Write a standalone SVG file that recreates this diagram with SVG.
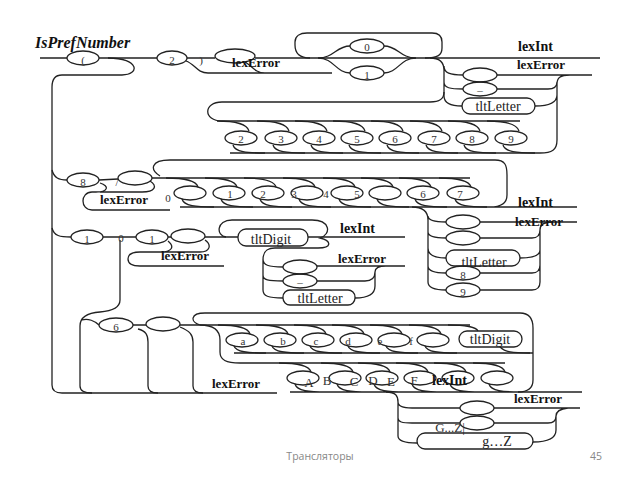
<svg xmlns="http://www.w3.org/2000/svg" width="640" height="480" viewBox="0 0 640 480">
<style>
.c{fill:none;stroke:#222;stroke-width:1.3}
.e{fill:none;stroke:#222;stroke-width:1.3}
.b{font-family:"Liberation Serif",serif;font-weight:bold;font-size:13px;fill:#111}
.i{font-family:"Liberation Serif",serif;font-weight:bold;font-size:14px;fill:#111}
.t{font-family:"Liberation Serif",serif;font-size:14px;fill:#222}
.s{font-family:"Liberation Serif",serif;font-size:11px;fill:#333;text-anchor:middle}
.u{font-family:"Liberation Serif",serif;font-size:13px;fill:#333;text-anchor:middle}
</style>
<rect width="640" height="480" fill="#fff"/>
<text x="35" y="48" style="font-family:'Liberation Serif',serif;font-weight:bold;font-style:italic;font-size:16px;fill:#111">IsPrefNumber</text>

<g id="connectors">
<path class="c" d="M40,58 L67,58 M99,58 L157,58 M187,58 L215,58 M255,58 L600,58"/>
<path class="c" d="M108,58 C140,58 140,75 122,75 L62,75 C55,75 52,79 52,87 L52,385 C52,390 55,393 62,393 L277,393"/>
<path class="c" d="M186,61 C195,64 197,73 208,73 L332,73 M245,62 C252,66 255,73 265,73"/>
<path class="c" d="M310,58 C298,58 295,52 295,45 L295,42 C295,36 300,33 307,33 L432,33 C438,33 442,36 442,42 L442,48 C442,55 438,58 425,58"/>
<path class="c" d="M318,58 C334,58 336,46 350,46 M384,46 C398,46 400,58 416,58 M318,58 C334,58 336,73 350,73 M384,73 C398,73 400,58 416,58"/>
<path class="c" d="M430,58 C440,58 444,62 444,70 L444,96 C444,102 448,106 462,106 M444,66 C444,73 450,75 463,75 M444,82 C444,88 450,89 463,89 M497,75 L592,75 M497,89 L548,89 C554,89 557,86 557,82 M535,106 C550,106 557,102 557,95 M557,84 C557,78 560,75 570,75 M557,82 L557,140 C557,150 552,153 540,153 L230,153"/>
<path class="c" d="M444,92 C444,99 440,102 430,102 L222,102 C203,102 203,121 222,121 L520,121"/>
<path class="c" d="M217,121 C235,121 247,124 249,131 M233,145 C235,152 247,153 265,153 M257,121 C275,121 287,124 289,131 M273,145 C275,152 287,153 305,153 M295,121 C313,121 325,124 327,131 M311,145 C313,152 325,153 343,153 M333,121 C351,121 363,124 365,131 M349,145 C351,152 363,153 381,153 M371,121 C389,121 401,124 403,131 M387,145 C389,152 401,153 419,153 M410,121 C428,121 440,124 442,131 M426,145 C428,152 440,153 458,153 M448,121 C466,121 478,124 480,131 M464,145 C466,152 478,153 496,153 M487,121 C505,121 517,124 519,131 M503,145 C505,152 517,153 535,153"/>
<path class="c" d="M52,170 C54,178 59,180 67,180 M99,180 L118,179 M152,178 L470,178"/>
<path class="c" d="M100,183 C110,186 108,192 96,192 L92,192 C80,192 80,210 92,210 L170,210 M150,181 C158,186 155,192 142,192 L100,192"/>
<path class="c" d="M160,176 C150,170 150,160 170,160 L495,160 C505,160 507,165 507,175 L507,195 C507,204 500,207 490,207 M180,207 L577,207 M480,222 L577,222"/>
<path class="c" d="M166,178 C184,178 196,180 198,187 M182,199 C184,206 196,207 214,207 M205,178 C223,178 235,180 237,187 M221,199 C223,206 235,207 253,207 M244,178 C262,178 274,180 276,187 M260,199 C262,206 274,207 292,207 M283,178 C301,178 313,180 315,187 M299,199 C301,206 313,207 331,207 M323,178 C341,178 353,180 355,187 M339,199 C341,206 353,207 371,207 M361,178 C379,178 391,180 393,187 M377,199 C379,206 391,207 409,207 M399,178 C417,178 429,180 431,187 M415,199 C417,206 429,207 447,207 M439,178 C457,178 469,180 471,187 M455,199 C457,206 469,207 487,207"/>
<path class="c" d="M412,207 C424,207 428,212 428,220 L428,282 C428,287 432,290 446,290 M428,216 C428,220 434,222 446,222 M428,232 C428,236 434,238 446,238 M428,248 C428,255 434,258 446,258 M428,266 C428,271 434,273 446,273 M480,238 L532,238 C538,238 540,235 540,230 M520,258 C534,258 540,255 540,250 M480,273 L532,273 C538,273 540,270 540,265 M480,290 L532,290 C538,290 540,287 540,282 L540,230 C540,225 543,222 552,222"/>
<path class="c" d="M52,228 C54,236 60,237 71,237 M103,237 L136,237 M168,237 L171,237 M205,237 L238,237 M308,237 L405,237"/>
<path class="c" d="M120,240 L120,300 C120,308 112,311 100,312 C86,313 80,318 80,326 L80,386 C80,391 84,393 92,393 M82,320 C88,318 95,321 99,325"/>
<path class="c" d="M168,241 C175,247 172,252 160,252 L140,252 C130,252 128,256 128,259 C128,263 131,266 140,266 L224,266 M205,240 C212,245 210,252 200,252 L160,252"/>
<path class="c" d="M226,237 C216,236 216,220 232,220 L312,220 C330,220 332,234 320,238 C332,241 332,248 318,248 L275,248 C266,248 263,252 263,260 L263,290 C263,296 268,298 283,298 M263,259 C263,265 268,267 283,267 M263,275 C263,280 268,281 283,281 M317,266 L405,266 M317,281 L365,281 C372,281 375,278 375,272 M355,298 C369,298 375,294 375,286 L375,272 C375,268 378,266 386,266"/>
<path class="c" d="M133,325 L146,325 M138,329 C146,331 148,335 148,342 L148,386 C148,391 151,393 158,393 M180,327 C190,331 193,335 193,342 L193,386 C193,391 196,393 203,393 M180,325 L470,325"/>
<path class="c" d="M200,325 C190,322 190,313 205,313 L520,313 C529,313 533,318 533,328 L533,380 C533,388 528,392 518,392 M200,325 C214,325 220,330 220,340 L220,352 C220,360 226,363 240,363 L505,363 M234,353 L533,353"/>
<path class="c" d="M218,325 C236,325 248,327 250,334 M234,346 C236,352 248,353 266,353 M256,325 C274,325 286,327 288,334 M272,346 C274,352 286,353 304,353 M294,325 C312,325 324,327 326,334 M310,346 C312,352 324,353 342,353 M332,325 C350,325 362,327 364,334 M348,346 C350,352 362,353 380,353 M370,325 C388,325 400,327 402,334 M386,346 C388,352 400,353 418,353 M409,325 C427,325 439,327 441,334 M425,346 C427,352 439,353 457,353 M448,325 C466,325 476,327 478,331 M500,347 C505,352 512,353 530,353"/>
<path class="c" d="M279,363 C297,363 309,365 311,372 M295,384 C297,391 309,392 327,392 M321,363 C339,363 351,365 353,372 M337,384 C339,391 351,392 369,392 M358,363 C376,363 388,365 390,372 M374,384 C376,391 388,392 406,392 M396,363 C414,363 426,365 428,372 M412,384 C414,391 426,392 444,392 M434,363 C452,363 464,365 466,372 M450,384 C452,391 464,392 482,392 M473,363 C491,363 503,365 505,372 M489,384 C491,391 503,392 521,392 M290,392 L582,392"/>
<path class="c" d="M386,392 C396,392 398,396 398,402 L398,436 C398,441 404,443 417,443 M398,402 C398,406 402,408 412,408 L460,408 M398,418 C398,422 402,423 412,423 L460,423 M494,408 L580,408 M494,423 L548,423 C554,423 556,420 556,416 M533,442 C548,442 556,438 556,430 L556,416 C556,412 559,409 568,408"/>
</g>

<g id="n-open"><ellipse class="e" cx="83" cy="58" rx="16" ry="7"/><text class="s" x="83" y="64">(</text></g>
<g id="n-2"><ellipse class="e" cx="172" cy="58" rx="15" ry="7"/><text class="s" x="172" y="64">2</text><text class="s" x="201" y="64">)</text></g>
<g id="n-err1"><ellipse class="e" cx="235" cy="56" rx="20" ry="7"/><text class="b" x="232" y="67">lexError</text></g>
<g id="n-0"><ellipse class="e" cx="367" cy="46" rx="17" ry="7"/><text class="s" x="367" y="51">0</text></g>
<g id="n-1"><ellipse class="e" cx="367" cy="73" rx="17" ry="7"/><text class="s" x="367" y="79">1</text></g>
<g id="n-top-out"><text class="i" x="518" y="51">lexInt</text><text class="b" x="517" y="69">lexError</text>
<ellipse class="e" cx="480" cy="75" rx="17" ry="7"/><ellipse class="e" cx="480" cy="89" rx="17" ry="7"/><text class="s" x="480" y="90">_</text>
<rect class="e" x="462" y="98" width="73" height="16" rx="8"/><text class="t" x="498" y="111" text-anchor="middle">tltLetter</text></g>
<g id="n-digits1">
<ellipse class="e" cx="241" cy="138" rx="16" ry="7"/><text class="s" x="241" y="143">2</text>
<ellipse class="e" cx="281" cy="138" rx="16" ry="7"/><text class="s" x="281" y="143">3</text>
<ellipse class="e" cx="319" cy="138" rx="16" ry="7"/><text class="s" x="319" y="143">4</text>
<ellipse class="e" cx="357" cy="138" rx="16" ry="7"/><text class="s" x="357" y="143">5</text>
<ellipse class="e" cx="395" cy="138" rx="16" ry="7"/><text class="s" x="395" y="143">6</text>
<ellipse class="e" cx="434" cy="138" rx="16" ry="7"/><text class="s" x="434" y="143">7</text>
<ellipse class="e" cx="472" cy="138" rx="16" ry="7"/><text class="s" x="472" y="143">8</text>
<ellipse class="e" cx="511" cy="138" rx="16" ry="7"/><text class="s" x="511" y="143">9</text></g>

<g id="n-8"><ellipse class="e" cx="83" cy="180" rx="16" ry="7"/><text class="s" x="83" y="186">8</text><text class="s" x="117" y="186">/</text>
<ellipse class="e" cx="135" cy="178" rx="17" ry="7"/><text class="b" x="100" y="204">lexError</text><text class="s" x="168" y="202">0</text></g>
<g id="n-digits2">
<ellipse class="e" cx="190" cy="193" rx="16" ry="7"/>
<ellipse class="e" cx="229" cy="193" rx="16" ry="7"/><text class="s" x="230" y="198">1</text>
<ellipse class="e" cx="268" cy="193" rx="16" ry="7"/><text class="s" x="263" y="198">2</text>
<ellipse class="e" cx="307" cy="193" rx="16" ry="7"/><text class="s" x="294" y="198">3</text>
<ellipse class="e" cx="347" cy="193" rx="16" ry="7"/><text class="s" x="326" y="198">4</text>
<ellipse class="e" cx="385" cy="193" rx="16" ry="7"/><text class="s" x="357" y="198">5</text>
<ellipse class="e" cx="423" cy="193" rx="16" ry="7"/><text class="s" x="423" y="198">6</text>
<ellipse class="e" cx="463" cy="193" rx="16" ry="7"/><text class="s" x="460" y="198">7</text></g>
<g id="n-oct-out"><text class="i" x="518" y="207">lexInt</text><text class="b" x="515" y="226">lexError</text>
<ellipse class="e" cx="463" cy="222" rx="17" ry="7"/><ellipse class="e" cx="463" cy="238" rx="17" ry="7"/>
<rect class="e" x="446" y="250" width="74" height="16" rx="8"/><text class="t" x="484" y="267" text-anchor="middle">tltLetter</text>
<ellipse class="e" cx="463" cy="273" rx="17" ry="7"/><text class="s" x="463" y="279">8</text>
<ellipse class="e" cx="463" cy="290" rx="17" ry="7"/><text class="s" x="463" y="296">9</text></g>

<g id="n-1b"><ellipse class="e" cx="87" cy="237" rx="16" ry="7"/><text class="s" x="87" y="243">1</text><text class="s" x="121" y="242">0</text>
<ellipse class="e" cx="152" cy="237" rx="16" ry="7"/><text class="s" x="152" y="243">1</text>
<ellipse class="e" cx="188" cy="236" rx="17" ry="7"/><text class="b" x="161" y="260">lexError</text></g>
<g id="n-bin-body"><rect class="e" x="238" y="229" width="70" height="17" rx="8"/><text class="t" x="271" y="244" text-anchor="middle">tltDigit</text>
<text class="i" x="340" y="233">lexInt</text><text class="b" x="338" y="263">lexError</text>
<ellipse class="e" cx="300" cy="267" rx="17" ry="7"/><ellipse class="e" cx="300" cy="281" rx="17" ry="7"/><text class="s" x="300" y="282">_</text>
<rect class="e" x="283" y="290" width="72" height="15" rx="7"/><text class="t" x="320" y="303" text-anchor="middle">tltLetter</text></g>

<g id="n-6"><ellipse class="e" cx="116" cy="325" rx="17" ry="7"/><text class="s" x="116" y="331">6</text>
<ellipse class="e" cx="163" cy="324" rx="17" ry="7"/><text class="b" x="212" y="388">lexError</text></g>
<g id="n-hexlow">
<ellipse class="e" cx="242" cy="340" rx="16" ry="7"/><text class="s" x="243" y="345">a</text>
<ellipse class="e" cx="280" cy="340" rx="16" ry="7"/><text class="s" x="283" y="345">b</text>
<ellipse class="e" cx="318" cy="340" rx="16" ry="7"/><text class="s" x="316" y="345">c</text>
<ellipse class="e" cx="356" cy="340" rx="16" ry="7"/><text class="s" x="348" y="345">d</text>
<ellipse class="e" cx="394" cy="340" rx="16" ry="7"/><text class="s" x="380" y="345">e</text>
<ellipse class="e" cx="433" cy="340" rx="16" ry="7"/><text class="s" x="411" y="345">f</text>
<rect class="e" x="459" y="331" width="63" height="16" rx="8"/><text class="t" x="490" y="344" text-anchor="middle">tltDigit</text></g>
<g id="n-hexup">
<ellipse class="e" cx="303" cy="378" rx="16" ry="7"/><text class="u" x="309" y="387">A</text>
<ellipse class="e" cx="345" cy="378" rx="16" ry="7"/><text class="u" x="327" y="385">B</text>
<ellipse class="e" cx="382" cy="378" rx="16" ry="7"/><text class="u" x="354" y="386">C</text>
<ellipse class="e" cx="420" cy="378" rx="16" ry="7"/><text class="u" x="373" y="385">D</text>
<ellipse class="e" cx="458" cy="378" rx="16" ry="7"/><text class="u" x="391" y="386">E</text>
<ellipse class="e" cx="497" cy="378" rx="16" ry="7"/><text class="u" x="414" y="385">F</text>
<text class="i" x="432" y="385">lexInt</text></g>
<g id="n-hex-out"><text class="b" x="514" y="403">lexError</text>
<ellipse class="e" cx="477" cy="408" rx="17" ry="7"/><ellipse class="e" cx="477" cy="423" rx="17" ry="7"/>
<text class="u" x="450" y="432">G...Z|</text>
<rect class="e" x="417" y="433" width="116" height="16" rx="8"/><text class="t" x="497" y="446" text-anchor="middle">g…Z</text></g>

<text x="320" y="460" text-anchor="middle" style="font-family:'Open Sans','Liberation Sans',sans-serif;font-size:10.5px;fill:#888">Трансляторы</text>
<text x="596" y="460" text-anchor="middle" style="font-family:'Open Sans','Liberation Sans',sans-serif;font-size:10.5px;fill:#888">45</text>
</svg>
